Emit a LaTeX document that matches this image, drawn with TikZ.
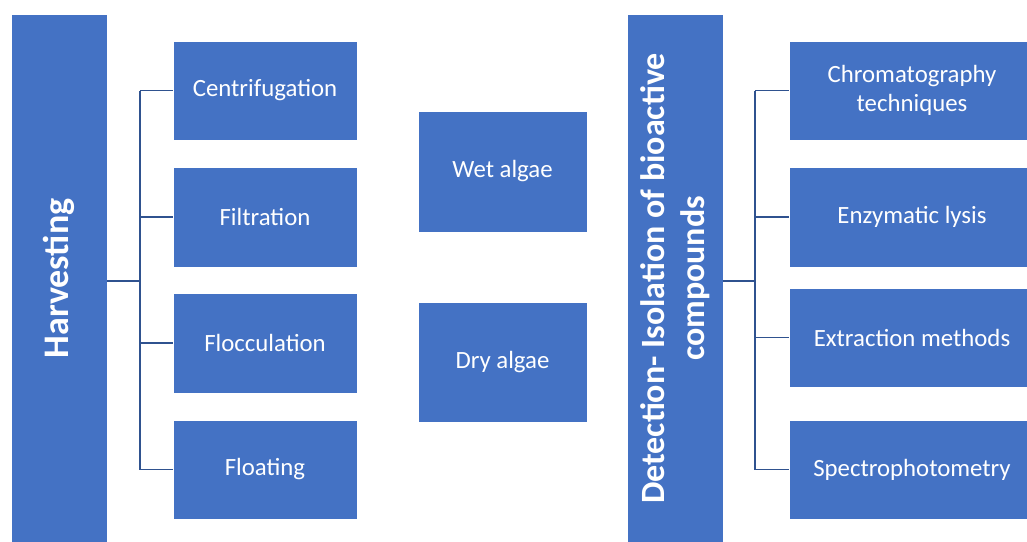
\documentclass[tikz,border=0pt]{standalone}
\usepackage{fontspec}
\setmainfont{Carlito}
\definecolor{boxblue}{HTML}{4472C4}
\definecolor{linkblue}{HTML}{2F528F}
\tikzset{
  panel/.style={fill=boxblue, draw=white, line width=0.6pt, inner sep=0pt},
  itembox/.style={panel, text=white, align=center,
    font=\fontsize{24.8}{29.5}\selectfont},
  titletext/.style={text=white, align=center, inner sep=0pt,
    font=\fontsize{36}{40}\selectfont\bfseries},
  conn/.style={draw=linkblue, line width=1.1pt}
}
\begin{document}
\begin{tikzpicture}[x=1pt, y=-1pt]
\useasboundingbox (0,0) rectangle (1027,541);
\clip (0,0) rectangle (1027,541);

% Harvesting column and its methods
\node[panel, minimum width=96pt, minimum height=529pt] (harv) at (59,278.5) {};
\node[titletext, rotate=90] at (harv) {Harvesting};

\node[itembox, minimum width=184pt, minimum height=99pt] (cen) at (265,90.5) {Centrifugation};
\node[itembox, minimum width=184pt, minimum height=100pt] (fil) at (265,217) {Filtration};
\node[itembox, minimum width=184pt, minimum height=100pt] (flc) at (265,343) {Flocculation};
\node[itembox, minimum width=184pt, minimum height=99pt] (flo) at (265,469.5) {Floating};

\coordinate (hj) at (140,281);
\draw[conn] (harv.east |- hj) -- (hj);
\draw[conn] (hj |- cen.west) -- (hj |- flo.west);
\foreach \n in {cen,fil,flc,flo}
  \draw[conn] (hj |- \n.west) -- (\n.west);

% Intermediate products
\node[itembox, minimum width=169pt, minimum height=121pt] (wet) at (502.5,171.5) {Wet algae};
\node[itembox, minimum width=169pt, minimum height=120pt] (dry) at (502.5,362) {Dry algae};

% Detection / isolation column and its methods
\node[panel, minimum width=96pt, minimum height=529pt] (det) at (675,278.5) {};
\node[titletext, rotate=90, font=\fontsize{34}{40}\selectfont\bfseries] at (det)
  {Detection- Isolation of bioactive\\compounds};

\node[itembox, minimum width=246pt, minimum height=99pt] (chr) at (912,90.5) {Chromatography\\techniques};
\node[itembox, minimum width=246pt, minimum height=100pt] (enz) at (912,217) {Enzymatic lysis};
\node[itembox, minimum width=246pt, minimum height=99pt] (ext) at (912,337.5) {Extraction methods};
\node[itembox, minimum width=246pt, minimum height=99pt] (spe) at (912,469.5) {Spectrophotometry};

\coordinate (dj) at (755,281);
\draw[conn] (det.east |- dj) -- (dj);
\draw[conn] (dj |- chr.west) -- (dj |- spe.west);
\foreach \n in {chr,enz,ext,spe}
  \draw[conn] (dj |- \n.west) -- (\n.west);
\end{tikzpicture}
\end{document}
